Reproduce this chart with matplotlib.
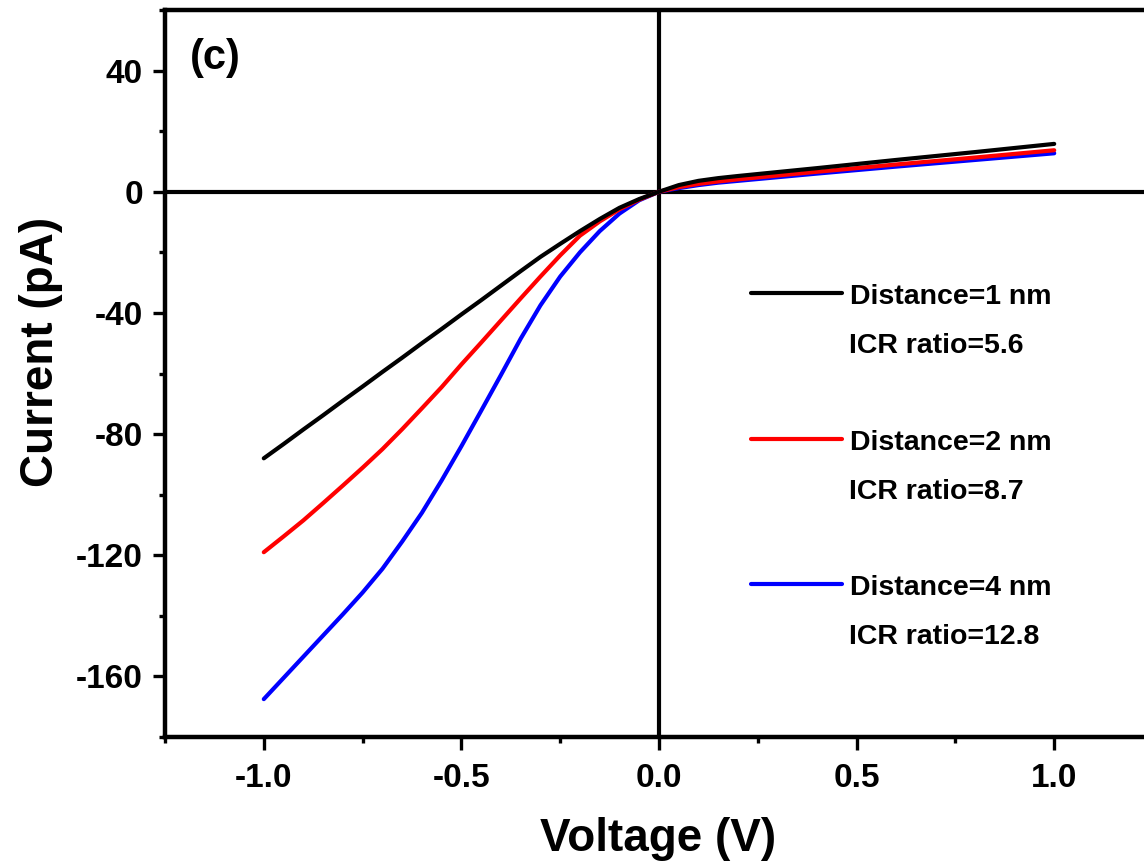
import numpy as np
import matplotlib
matplotlib.use('Agg')
import matplotlib.pyplot as plt
from matplotlib.ticker import MultipleLocator

plt.rcParams['font.family'] = 'Liberation Sans'
plt.rcParams['font.weight'] = 'bold'
plt.rcParams['axes.unicode_minus'] = False

# voltage (V) and current (pA)
voltage = [-1.0, -0.95, -0.9, -0.85, -0.8, -0.75, -0.7, -0.65, -0.6, -0.55, -0.5,
           -0.45, -0.4, -0.35, -0.3, -0.25, -0.2, -0.15, -0.1, -0.05, 0.0,
           0.05, 0.1, 0.15, 0.2, 0.4, 0.6, 0.8, 1.0]
i_1nm = [-88, -83.3, -78.5, -73.8, -69, -64.3, -59.5, -54.8, -50, -45.3, -40.5,
         -35.8, -31, -26.2, -21.5, -17.2, -13, -9, -5.3, -2.4, 0,
         2.2, 3.6, 4.5, 5.2, 7.8, 10.5, 13.1, 15.8]
i_2nm = [-119, -113.8, -108.5, -102.8, -97, -91.1, -85, -78.4, -71.5, -64.5, -57,
         -49.8, -42.5, -35.2, -28, -21, -14.5, -9.8, -5.8, -2.6, 0,
         1.5, 2.6, 3.4, 4.1, 6.6, 9.0, 11.3, 13.7]
i_4nm = [-167.5, -160.5, -153.5, -146.5, -139.5, -132.3, -124.5, -115.5, -106, -95.3, -84,
         -72.3, -60.5, -48.5, -37.5, -28, -20, -13, -7.2, -2.8, 0,
         1.2, 2.2, 3.0, 3.6, 6.0, 8.3, 10.5, 12.7]

labels = ['Distance=1 nm', 'Distance=2 nm', 'Distance=4 nm']
icr = ['5.6', '8.7', '12.8']
colors = ['black', 'red', 'blue']

fig = plt.figure(figsize=(11.44, 8.61), dpi=100)
ax = fig.add_axes([165/1144, 1-737/861, 988/1144, 727/861])

ax.axhline(0, color='black', lw=3, zorder=1)
ax.axvline(0, color='black', lw=3, zorder=1)

series = [i_1nm, i_2nm, i_4nm]
for k in [2, 1, 0]:
    ax.plot(voltage, series[k], color=colors[k], lw=3, zorder=2 + (2 - k),
            solid_capstyle='round', solid_joinstyle='round')

ax.set_xlim(-1.25, 1.25)
ax.set_ylim(-180, 60)
ax.xaxis.set_major_locator(MultipleLocator(0.5))
ax.xaxis.set_minor_locator(MultipleLocator(0.25))
ax.yaxis.set_major_locator(MultipleLocator(40))
ax.yaxis.set_minor_locator(MultipleLocator(20))
ax.xaxis.set_major_formatter(plt.FuncFormatter(lambda v, p: '%.1f' % v))

for s in ax.spines.values():
    s.set_linewidth(3.2)
ax.tick_params(which='major', direction='out', length=9, width=2.4,
               labelsize=24, pad=7)
ax.tick_params(which='minor', direction='out', length=4.5, width=2.4)
ax.tick_params(axis='x', which='major', pad=10)
ax.tick_params(top=False, right=False, which='both')

ax.set_xlabel('Voltage (V)', fontsize=33, fontweight='bold')
ax.set_ylabel('Current (pA)', fontsize=33, fontweight='bold')
ax.xaxis.set_label_coords(0.499, -0.11)
ax.yaxis.set_label_coords(-0.103, 0.53)

ax.text(-1.186, 44.2, '(c)', fontsize=30, fontweight='bold', va='center', ha='left')

# legend drawn by hand
line_y = [-33.5, -81.7, -129.5]
for k in range(3):
    ax.plot([0.233, 0.464], [line_y[k], line_y[k]], color=colors[k], lw=3,
            solid_capstyle='round', zorder=5)
    ax.text(0.484, line_y[k] - 1.4, labels[k], fontsize=20.5, fontweight='bold',
            va='center', ha='left')
    ax.text(0.48, line_y[k] - 17.5, 'ICR ratio=' + icr[k], fontsize=20.5,
            fontweight='bold', va='center', ha='left')

fig.savefig('out.png', dpi=100)
